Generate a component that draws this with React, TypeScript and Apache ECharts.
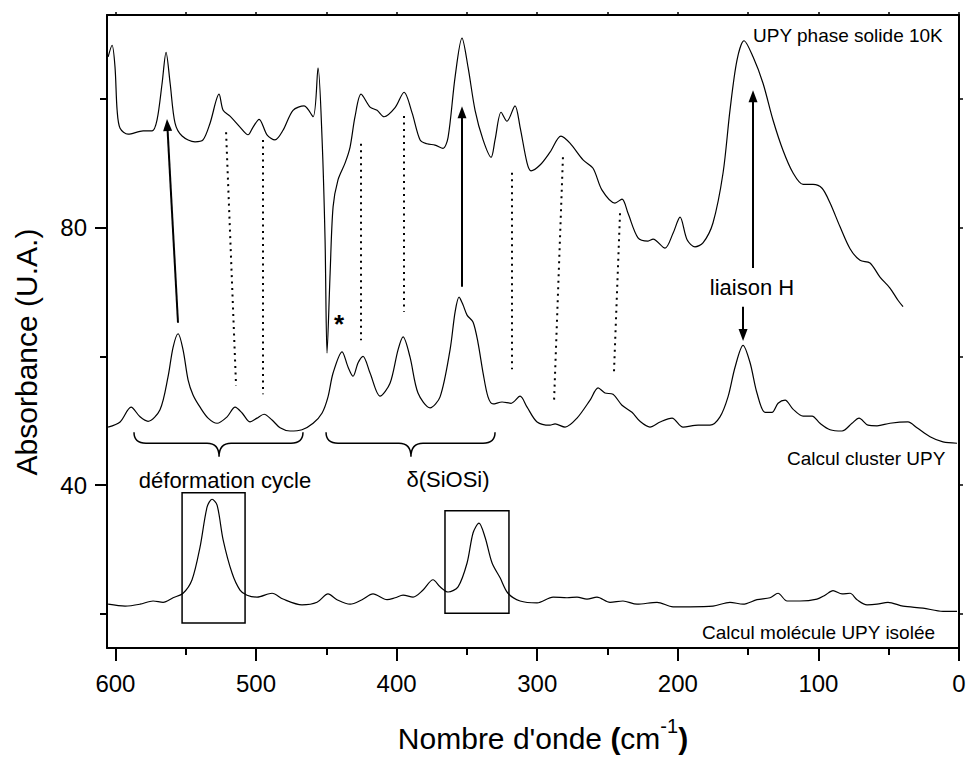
import React, { useEffect, useRef } from "react";
import * as echarts from "echarts";

const FONT = "'Liberation Sans', Arial, Helvetica, sans-serif";

// x: wavenumber (cm-1), y: absorbance (U.A.)
const solidPhase10K: number[][] = [
  [605.2, 106.5], [602.4, 108.3], [600.3, 104.9], [598.8, 98.2], [596.7, 95.4], [591.0, 94.5],
  [580.3, 95.0], [573.9, 95.0], [570.4, 96.7], [566.8, 102.4], [564.0, 107.2], [561.1, 102.4],
  [557.6, 96.2], [552.6, 94.2], [543.4, 93.3], [537.7, 93.6], [532.7, 96.2], [526.3, 100.7],
  [523.4, 98.2], [518.5, 97.3], [511.4, 95.6], [505.7, 94.4], [502.1, 95.6], [497.8, 96.8],
  [492.2, 94.4], [486.5, 93.6], [480.8, 95.1], [473.7, 98.2], [465.8, 98.9], [459.4, 97.2],
  [455.9, 104.8], [453.0, 93.6], [450.9, 78.1], [449.5, 60.5], [447.3, 72.9], [445.2, 83.2],
  [441.7, 87.4], [436.7, 90.0], [433.1, 92.5], [429.6, 97.2], [425.3, 100.7], [418.9, 98.7],
  [413.9, 98.2], [408.9, 97.2], [401.1, 98.6], [394.7, 101.0], [389.0, 97.8], [383.3, 93.6],
  [378.4, 93.0], [372.7, 92.8], [367.0, 92.3], [363.4, 94.0], [358.4, 103.4], [353.5, 109.4],
  [349.2, 104.9], [344.2, 98.2], [338.5, 93.6], [332.8, 90.9], [330.0, 93.6], [325.7, 97.9],
  [321.5, 96.5], [315.8, 98.9], [312.2, 95.6], [307.2, 90.0], [304.4, 88.8], [298.0, 89.7],
  [290.9, 91.7], [283.1, 94.2], [276.7, 93.1], [267.4, 90.5], [260.3, 89.2], [253.9, 85.8],
  [244.7, 83.8], [239.7, 84.4], [235.4, 82.2], [228.3, 78.4], [221.2, 77.9], [217.6, 78.2],
  [209.1, 76.8], [203.4, 79.1], [198.4, 81.6], [193.4, 78.1], [187.8, 77.0], [182.1, 77.6],
  [175.0, 80.7], [167.8, 88.5], [162.9, 98.2], [157.9, 106.0], [152.9, 109.0], [146.5, 106.5],
  [139.4, 102.4], [132.3, 96.7], [125.2, 92.0], [118.1, 88.5], [110.9, 86.7], [103.8, 86.7],
  [97.4, 86.1], [91.7, 83.8], [84.6, 80.1], [77.5, 76.7], [70.4, 74.9], [63.3, 74.5],
  [56.2, 72.3], [49.1, 70.6], [43.4, 68.7], [39.8, 67.7],
];

const clusterUPY: number[][] = [
  [605.2, 49.0], [596.7, 49.8], [588.9, 52.1], [582.5, 50.6], [576.8, 49.9], [568.3, 51.7],
  [562.6, 56.8], [559.0, 61.4], [555.4, 63.5], [551.9, 61.0], [548.3, 56.3], [544.8, 54.0],
  [539.8, 52.1], [534.1, 50.4], [527.7, 49.6], [520.6, 50.6], [514.9, 52.1], [509.9, 51.2],
  [504.2, 49.8], [499.3, 50.4], [494.3, 51.0], [488.6, 50.1], [482.9, 48.9], [475.8, 48.4],
  [467.3, 48.6], [459.4, 49.6], [453.0, 51.2], [448.8, 53.7], [445.2, 57.4], [438.8, 60.7],
  [434.5, 58.3], [431.0, 56.9], [427.4, 59.0], [423.9, 60.0], [418.9, 57.4], [411.8, 53.8],
  [404.7, 55.8], [399.0, 61.0], [395.4, 63.0], [390.5, 59.9], [384.8, 54.3], [376.2, 52.0],
  [369.1, 53.7], [362.0, 61.0], [358.4, 66.9], [355.6, 69.2], [352.8, 68.0], [349.9, 66.4],
  [345.6, 65.3], [342.1, 62.1], [338.5, 57.4], [335.0, 53.7], [331.4, 52.6], [325.0, 52.9],
  [318.6, 52.7], [312.2, 53.8], [307.2, 52.1], [300.1, 49.8], [290.9, 49.3], [287.3, 49.5],
  [280.2, 49.0], [271.7, 50.4], [262.4, 53.2], [256.7, 55.1], [251.8, 54.3], [246.1, 54.1],
  [239.7, 52.4], [232.6, 51.3], [226.9, 49.9], [219.8, 49.0], [212.6, 49.8], [204.1, 50.4],
  [196.3, 49.0], [185.6, 49.3], [177.1, 49.3], [170.0, 50.6], [164.3, 53.7], [159.3, 58.3],
  [153.6, 61.7], [148.6, 59.0], [143.7, 54.3], [138.0, 51.3], [133.0, 51.3], [128.7, 52.7],
  [123.7, 53.2], [118.1, 51.8], [110.9, 50.7], [104.5, 50.7], [98.9, 49.6], [91.7, 48.6],
  [83.2, 48.4], [76.1, 49.6], [71.1, 50.4], [64.7, 49.3], [58.3, 49.2], [49.1, 49.6],
  [36.3, 49.8], [29.9, 48.9], [20.6, 47.5], [11.4, 46.7], [1.4, 46.5],
];

const isolatedUPY: number[][] = [
  [605.2, 21.5], [593.1, 21.2], [582.5, 21.5], [573.2, 22.0], [566.1, 21.8], [559.0, 22.5],
  [551.9, 23.2], [545.5, 25.3], [539.8, 30.4], [534.8, 36.6], [531.3, 37.8], [527.7, 36.9],
  [523.4, 31.5], [517.0, 26.3], [511.4, 23.7], [506.4, 22.9], [499.3, 22.6], [488.6, 23.2],
  [480.8, 22.3], [467.3, 21.4], [456.6, 21.8], [448.8, 23.1], [442.4, 22.2], [433.1, 21.5],
  [424.6, 22.2], [416.8, 23.1], [406.8, 22.2], [401.1, 22.5], [395.4, 22.9], [388.3, 22.6],
  [381.2, 23.7], [374.1, 25.3], [369.1, 24.2], [363.4, 23.4], [356.3, 24.2], [349.9, 27.9],
  [345.6, 32.6], [341.4, 34.1], [337.1, 31.9], [332.1, 27.9], [326.4, 25.6], [320.8, 23.2],
  [312.2, 22.0], [300.1, 21.7], [288.7, 22.6], [278.8, 22.5], [271.7, 22.6], [264.6, 22.3],
  [257.5, 22.6], [248.2, 21.8], [239.0, 22.0], [229.0, 21.5], [214.8, 21.8], [203.4, 21.1],
  [191.3, 21.1], [175.0, 21.2], [162.9, 21.8], [153.6, 21.5], [143.7, 22.2], [134.4, 22.5],
  [128.7, 23.2], [122.3, 22.0], [113.1, 22.0], [101.0, 22.3], [95.3, 22.9], [89.6, 23.6],
  [83.2, 23.1], [77.5, 23.2], [72.5, 22.2], [65.4, 21.4], [58.3, 21.5], [50.5, 21.8],
  [39.8, 21.2], [25.6, 20.9], [11.4, 20.4], [1.4, 20.4],
];

// annotation arrows: [x1, y1, x2 (head), y2 (head)]
const arrows: number[][] = [
  [555.5, 65.2, 563.1, 95.9],
  [353.5, 70.8, 353.5, 97.9],
  [146.5, 73.7, 146.5, 100.4],
  [153.6, 67.7, 153.6, 63.3],
];
// dotted correspondence lines: [x1, y1, x2, y2]
const dottedLinks: number[][] = [
  [521.3, 94.8, 514.2, 55.4],
  [495.0, 93.6, 495.0, 54.1],
  [425.3, 93.0, 425.3, 62.5],
  [394.7, 97.3, 394.7, 66.9],
  [317.9, 88.5, 317.9, 58.0],
  [281.7, 90.9, 288.0, 53.2],
  [241.1, 82.2, 245.4, 57.6],
];
// boxes: [xFrom, xTo, yFrom, yTo]
const boxes: number[][] = [
  [552.6, 507.8, 18.6, 38.8],
  [365.6, 320.1, 20.1, 36.0],
];
// braces: [xLeft, xRight, xCenter, yTop, yMid, yTip]
const braces: number[][] = [
  [586.8, 466.6, 526.3, 48.2, 46.5, 44.4],
  [450.2, 330.0, 389.8, 48.2, 46.5, 44.4],
];

const xMajorTicks = [0, 100, 200, 300, 400, 500, 600];
const xMinorTicks = [50, 150, 250, 350, 450, 550];
const xTopTicks = [0, 50, 100, 150, 200, 250, 300, 350, 400, 450, 500, 550, 600];
const yMajorTicks = [40, 80];
const yMinorTicks = [20, 60, 100];
const yRightTicks = [20, 40, 60, 80, 100];

const X_MIN = 0;
const X_MAX = 606;
const Y_MIN = 14.7;
const Y_MAX = 113;

const black = "#000";

function xAxisBase(extra: any) {
  return {
    type: "value",
    min: X_MIN,
    max: X_MAX,
    inverse: true,
    splitLine: { show: false },
    ...extra,
  };
}
function yAxisBase(extra: any) {
  return {
    type: "value",
    min: Y_MIN,
    max: Y_MAX,
    splitLine: { show: false },
    ...extra,
  };
}

export default function App() {
  const ref = useRef<HTMLDivElement>(null);
  useEffect(() => {
    document.body.style.margin = "0";
    const chart = echarts.init(ref.current!, null, { renderer: "svg" });
    const lineSeries = (name: string, data: number[][], extra: any) => ({
      name,
      type: "line",
      data,
      xAxisIndex: 0,
      yAxisIndex: 0,
      smooth: 0.3,
      showSymbol: false,
      symbol: "none",
      silent: true,
      lineStyle: { color: black, width: 1.2 },
      ...extra,
    });
    const option: any = {
      animation: false,
      backgroundColor: "#fff",
      textStyle: { fontFamily: FONT },
      grid: { left: 107, right: 10, top: 15, bottom: 110, containLabel: false },
      xAxis: [
        xAxisBase({
          position: "bottom",
          axisLine: { show: true, onZero: false, lineStyle: { color: black, width: 2 } },
          axisTick: { show: true, customValues: xMajorTicks, length: 13, lineStyle: { color: black, width: 2 } },
          axisLabel: { show: true, customValues: xMajorTicks, fontSize: 24, color: black, margin: 23, fontFamily: FONT },
        }),
        xAxisBase({
          position: "bottom",
          axisLine: { show: false, onZero: false },
          axisTick: { show: true, customValues: xMinorTicks, length: 7, lineStyle: { color: black, width: 2 } },
          axisLabel: { show: false },
        }),
        xAxisBase({
          position: "top",
          axisLine: { show: true, onZero: false, lineStyle: { color: black, width: 2 } },
          axisTick: { show: true, customValues: xTopTicks, length: 3, lineStyle: { color: black, width: 1.5 } },
          axisLabel: { show: false },
        }),
      ],
      yAxis: [
        yAxisBase({
          position: "left",
          axisLine: { show: true, onZero: false, lineStyle: { color: black, width: 2 } },
          axisTick: { show: true, customValues: yMajorTicks, length: 12, lineStyle: { color: black, width: 2 } },
          axisLabel: { show: true, customValues: yMajorTicks, fontSize: 24, color: black, margin: 20, fontFamily: FONT },
        }),
        yAxisBase({
          position: "left",
          axisLine: { show: false, onZero: false },
          axisTick: { show: true, customValues: yMinorTicks, length: 7, lineStyle: { color: black, width: 2 } },
          axisLabel: { show: false },
        }),
        yAxisBase({
          position: "right",
          axisLine: { show: true, onZero: false, lineStyle: { color: black, width: 2 } },
          axisTick: { show: true, customValues: yRightTicks, length: 4, lineStyle: { color: black, width: 1.5 } },
          axisLabel: { show: false },
        }),
      ],
      series: [
        lineSeries("UPY phase solide 10K", solidPhase10K, {
          markLine: {
            silent: true,
            animation: false,
            symbol: ["none", "triangle"],
            symbolSize: [9, 12],
            label: { show: false },
            emphasis: { disabled: true },
            lineStyle: { color: black, width: 2, type: "solid" },
            itemStyle: { color: black },
            data: arrows.map((a) => [{ coord: [a[0], a[1]] }, { coord: [a[2], a[3]] }]),
          },
        }),
        lineSeries("Calcul cluster UPY", clusterUPY, {
          markLine: {
            silent: true,
            animation: false,
            symbol: ["none", "none"],
            label: { show: false },
            emphasis: { disabled: true },
            lineStyle: { color: black, width: 2, type: [2, 4.5] },
            data: dottedLinks.map((a) => [{ coord: [a[0], a[1]] }, { coord: [a[2], a[3]] }]),
          },
        }),
        lineSeries("Calcul molécule UPY isolée", isolatedUPY, {
          markArea: {
            silent: true,
            label: { show: false },
            emphasis: { disabled: true },
            itemStyle: { color: "rgba(0,0,0,0)", borderColor: black, borderWidth: 1.5 },
            data: boxes.map((b) => [{ coord: [b[0], b[2]] }, { coord: [b[1], b[3]] }]),
          },
        }),
        {
          type: "custom",
          name: "braces",
          silent: true,
          xAxisIndex: 0,
          yAxisIndex: 0,
          data: braces,
          renderItem: (_params: any, api: any) => {
            const l = api.coord([api.value(0), api.value(3)]);
            const r = api.coord([api.value(1), api.value(3)]);
            const m = api.coord([api.value(2), api.value(4)]);
            const t = api.coord([api.value(2), api.value(5)]);
            const h = m[1];
            const k = 12;
            const d =
              `M${l[0]} ${l[1]} Q${l[0]} ${h} ${l[0] + k} ${h} L${m[0] - k} ${h} ` +
              `Q${m[0]} ${h} ${m[0]} ${t[1]} Q${m[0]} ${h} ${m[0] + k} ${h} ` +
              `L${r[0] - k} ${h} Q${r[0]} ${h} ${r[0]} ${r[1]}`;
            return {
              type: "path",
              shape: { pathData: d },
              style: { fill: "none", stroke: black, lineWidth: 1.5 },
            };
          },
        },
      ],
      graphic: [
        {
          type: "text", x: 26, y: 352, rotation: Math.PI / 2,
          style: { text: "Absorbance (U.A.)", fontSize: 30, fontFamily: FONT, fill: black, align: "center", verticalAlign: "middle" },
        },
        {
          type: "text", x: 543, y: 738,
          style: {
            text: "{n|Nombre d'onde }{b|(}{n|cm}{s|-1}{b|)}",
            fontFamily: FONT, fill: black, align: "center", verticalAlign: "middle",
            rich: {
              n: { fontSize: 30, lineHeight: 44, fontFamily: FONT, fill: black },
              b: { fontSize: 30, lineHeight: 44, fontWeight: "bold", fontFamily: FONT, fill: black },
              s: { fontSize: 20, lineHeight: 20, verticalAlign: "top", fontFamily: FONT, fill: black },
            },
          },
        },
        { type: "text", x: 753, y: 35, style: { text: "UPY phase solide 10K", fontSize: 19, fontFamily: FONT, fill: black, align: "left", verticalAlign: "middle" } },
        { type: "text", x: 787, y: 458, style: { text: "Calcul cluster UPY", fontSize: 19, fontFamily: FONT, fill: black, align: "left", verticalAlign: "middle" } },
        { type: "text", x: 702, y: 632, style: { text: "Calcul molécule UPY isolée", fontSize: 19, fontFamily: FONT, fill: black, align: "left", verticalAlign: "middle" } },
        { type: "text", x: 225, y: 480, style: { text: "déformation cycle", fontSize: 22, fontFamily: FONT, fill: black, align: "center", verticalAlign: "middle" } },
        { type: "text", x: 448, y: 479, style: { text: "δ(SiOSi)", fontSize: 22, fontFamily: FONT, fill: black, align: "center", verticalAlign: "middle" } },
        { type: "text", x: 752, y: 287, style: { text: "liaison H", fontSize: 22, fontFamily: FONT, fill: black, align: "center", verticalAlign: "middle" } },
        { type: "text", x: 339, y: 324, style: { text: "*", fontSize: 26, fontWeight: "bold", fontFamily: FONT, fill: black, align: "center", verticalAlign: "middle" } },
      ],
    };
    chart.setOption(option);
    return () => chart.dispose();
  }, []);
  return <div ref={ref} style={{ width: 969, height: 758 }} />;
}
